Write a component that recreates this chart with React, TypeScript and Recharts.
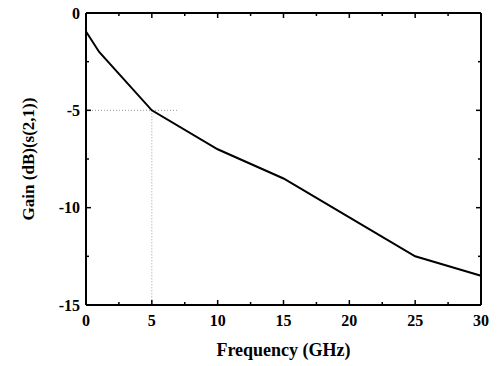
import React from 'react';
import { LineChart, Line, XAxis, YAxis, ReferenceLine } from 'recharts';

const frequency = [0, 1, 5, 10, 15, 20, 25, 30];
const gain = [-0.95, -2, -5, -7, -8.5, -10.5, -12.5, -13.5];
const xTicks = [0, 2.5, 5, 7.5, 10, 12.5, 15, 17.5, 20, 22.5, 25, 27.5, 30];
const yTicks = [-15, -12.5, -10, -7.5, -5, -2.5, 0];
const markerX = 5;
const markerY = -5;
const markerXEnd = 7;
const yMin = -15;

const data = frequency.map((f, i) => ({ f, g: gain[i] }));

const FONT = '"Liberation Serif", "Times New Roman", serif';
const MAJOR = 5;
const MINOR = 3;

const isMajor = (v: number) => Math.abs(v % 5) < 1e-9;

const Tick = (props: any) => {
  const { x, y, payload, side, showLabel } = props;
  const v = payload.value;
  const len = isMajor(v) ? MAJOR : MINOR;
  let d = '';
  let label = null;
  if (side === 'bottom') {
    d = `M${x},${y}L${x},${y - len}`;
    if (showLabel && isMajor(v))
      label = (
        <text x={x} y={y + 21} textAnchor="middle" fontFamily={FONT} fontWeight="bold" fontSize={16} fill="#000">
          {v}
        </text>
      );
  } else if (side === 'top') {
    d = `M${x},${y}L${x},${y + len}`;
  } else if (side === 'left') {
    d = `M${x},${y}L${x + len},${y}`;
    if (showLabel && isMajor(v))
      label = (
        <text x={x - 6} y={y + 5.5} textAnchor="end" fontFamily={FONT} fontWeight="bold" fontSize={16} fill="#000">
          {v}
        </text>
      );
  } else {
    d = `M${x},${y}L${x - len},${y}`;
  }
  return (
    <g>
      <path d={d} stroke="#000" strokeWidth={1.5} fill="none" />
      {label}
    </g>
  );
};

const axisLine = { stroke: '#000', strokeWidth: 2 };

export default function App() {
  return (
    <div style={{ position: 'absolute', left: 0, top: 0, background: '#fff' }}>
      <LineChart width={498} height={366} data={data} margin={{ top: 8, right: 12, bottom: 0, left: 0 }}>
        <XAxis
          dataKey="f"
          type="number"
          domain={[0, 30]}
          ticks={xTicks}
          interval={0}
          height={61}
          tickSize={0}
          tickMargin={0}
          tickLine={false}
          axisLine={axisLine}
          tick={<Tick side="bottom" showLabel />}
          label={{
            value: 'Frequency (GHz)',
            position: 'insideBottom',
            offset: 10,
            style: { fontFamily: FONT, fontWeight: 'bold', fontSize: 18, fill: '#000' },
          }}
        />
        <XAxis
          xAxisId="top"
          dataKey="f"
          orientation="top"
          type="number"
          domain={[0, 30]}
          ticks={xTicks}
          interval={0}
          height={5}
          tickSize={0}
          tickMargin={0}
          tickLine={false}
          axisLine={axisLine}
          tick={<Tick side="top" />}
        />
        <YAxis
          type="number"
          domain={[-15, 0]}
          ticks={yTicks}
          interval={0}
          width={86}
          tickSize={0}
          tickMargin={0}
          tickLine={false}
          axisLine={axisLine}
          tick={<Tick side="left" showLabel />}
          label={{
            value: 'Gain (dB)(s(2,1))',
            angle: -90,
            position: 'insideLeft',
            offset: 28,
            style: { fontFamily: FONT, fontWeight: 'bold', fontSize: 17, fill: '#000', textAnchor: 'middle' },
          }}
        />
        <YAxis
          yAxisId="right"
          orientation="right"
          type="number"
          domain={[-15, 0]}
          ticks={yTicks}
          interval={0}
          width={5}
          tickSize={0}
          tickMargin={0}
          tickLine={false}
          axisLine={axisLine}
          tick={<Tick side="right" />}
        />
        <ReferenceLine
          segment={[
            { x: 0, y: markerY },
            { x: markerXEnd, y: markerY },
          ]}
          stroke="#999"
          strokeWidth={1}
          strokeDasharray="1 2"
        />
        <ReferenceLine
          segment={[
            { x: markerX, y: markerY },
            { x: markerX, y: yMin },
          ]}
          stroke="#999"
          strokeWidth={1}
          strokeDasharray="1 2"
        />
        <Line
          xAxisId="top"
          yAxisId="right"
          type="linear"
          dataKey="g"
          stroke="none"
          strokeWidth={0}
          dot={false}
          activeDot={false}
          isAnimationActive={false}
        />
        <Line
          type="linear"
          dataKey="g"
          stroke="#000"
          strokeWidth={2}
          dot={false}
          isAnimationActive={false}
        />
      </LineChart>
    </div>
  );
}
